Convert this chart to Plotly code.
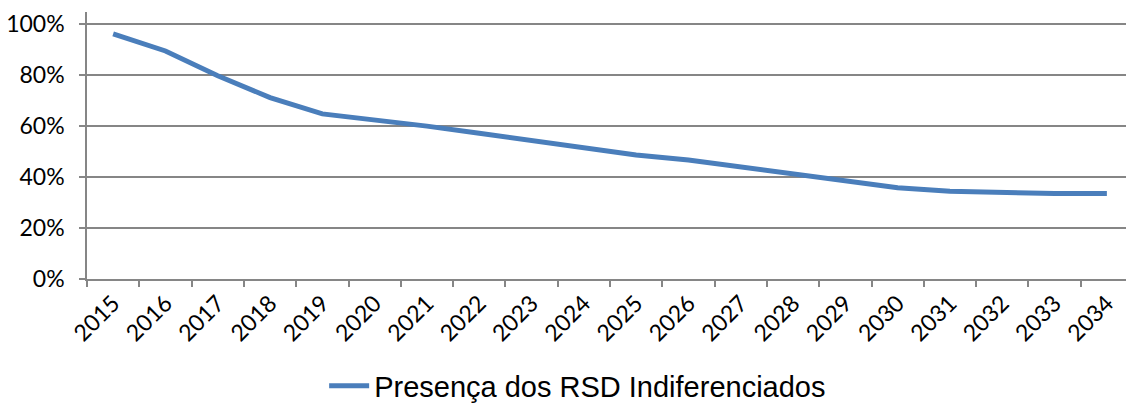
import plotly.graph_objects as go

years = [str(y) for y in range(2015, 2035)]
presenca = [0.962, 0.895, 0.798, 0.712, 0.648, 0.625, 0.600, 0.572, 0.543, 0.513,
            0.487, 0.467, 0.440, 0.415, 0.389, 0.358, 0.344, 0.338, 0.336, 0.336]
series_name = "Presença dos RSD Indiferenciados"
y_ticks = [0, 0.2, 0.4, 0.6, 0.8, 1.0]
y_ticklabels = ["0%", "20%", "40%", "60%", "80%", "100%"]

fig = go.Figure()
fig.add_trace(go.Scatter(
    x=years, y=presenca, mode="lines", name=series_name,
    line=dict(color="#4a7ebb", width=5),
))

axis_gray = "#868686"
fig.update_layout(
    width=1126, height=405,
    margin=dict(l=87, r=0, t=12, b=126),
    paper_bgcolor="white", plot_bgcolor="white",
    showlegend=True,
    legend=dict(orientation="h", xref="container", yref="container",
                x=0.513, xanchor="center", y=0.047, yanchor="middle",
                font=dict(family="Liberation Sans, Arial", size=29, color="black"),
                itemwidth=40),
    xaxis=dict(type="category", range=[-0.5, 19.366], tickson="boundaries",
               ticks="outside", ticklen=6, tickwidth=1.5, tickcolor=axis_gray,
               showline=True, linecolor=axis_gray, linewidth=1.5,
               showgrid=False, tickangle=-45, automargin=False,
               tickfont=dict(family="Lato", size=23, color="black")),
    yaxis=dict(range=[0, 1.048], tickvals=y_ticks, ticktext=y_ticklabels,
               ticks="outside", ticklen=6, tickwidth=1.5, tickcolor=axis_gray,
               showline=True, linecolor=axis_gray, linewidth=1.5,
               showgrid=True, gridcolor=axis_gray, gridwidth=1.5,
               zeroline=False, automargin=False, ticklabelstandoff=10,
               tickfont=dict(family="Lato", size=23, color="black")),
)

fig.write_html(
    "out.html",
    config={"displayModeBar": False},
    post_script="document.body.style.margin='0';document.body.style.overflow='hidden';",
)
